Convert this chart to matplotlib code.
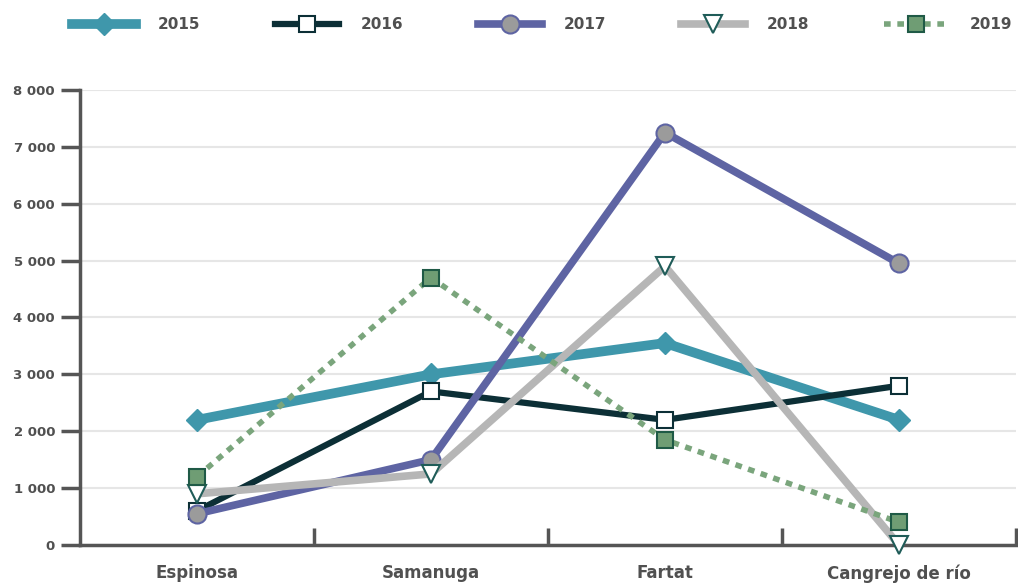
import matplotlib
matplotlib.use("Agg")
import matplotlib.pyplot as plt
from matplotlib.ticker import FixedLocator, NullFormatter

plt.rcParams['font.family'] = ['Liberation Sans Narrow', 'DejaVu Sans']

categorias = ['Espinosa', 'Samanuga', 'Fartat', 'Cangrejo de río']
anos = ['2015', '2016', '2017', '2018', '2019']
v2015 = [2200, 3000, 3550, 2200]
v2016 = [600, 2700, 2200, 2800]
v2017 = [550, 1500, 7250, 4950]
v2018 = [900, 1250, 4900, 0]
v2019 = [1200, 4700, 1850, 400]
y_ticks = [0, 1000, 2000, 3000, 4000, 5000, 6000, 7000, 8000]

estilos = [
    dict(color='#3f97ab', lw=7, marker='D', ms=11, mfc='#3f97ab', mec='#3f97ab', ls='-'),
    dict(color='#0c2f36', lw=4.5, marker='s', ms=11, mfc='white', mec='#0c2f36', mew=1.5, ls='-'),
    dict(color='#5e64a3', lw=5.5, marker='o', ms=13, mfc='#9b9b9b', mec='#5e64a3', mew=1.5, ls='-'),
    dict(color='#b6b6b6', lw=5.5, marker='v', ms=13, mfc='white', mec='#1f5c58', mew=1.5, ls='-'),
    dict(color='#7aa57c', lw=4, marker='s', ms=11, mfc='#6f9d74', mec='#1f5a46', mew=1.5, ls=(0, (1.2, 1.2))),
]
series = [v2015, v2016, v2017, v2018, v2019]

fig = plt.figure(figsize=(10.18, 5.88), dpi=100)
ax = fig.add_axes([0.0786, 0.0731, 0.9194, 0.774])

xs = [i + 0.5 for i in range(len(categorias))]
linhas = []
for ano, vals, st in zip(anos, series, estilos):
    l, = ax.plot(xs, vals, label=ano, zorder=3, clip_on=False, **st)
    linhas.append(l)

ax.set_xlim(0, len(categorias))
ax.set_ylim(0, 8000)
ax.set_yticks(y_ticks)
ax.set_yticklabels([f'{v:,}'.replace(',', ' ') if v else '0' for v in y_ticks])
ax.xaxis.set_major_locator(FixedLocator(range(1, len(categorias) + 1)))
ax.xaxis.set_major_formatter(NullFormatter())
ax.xaxis.set_minor_locator(FixedLocator(xs))
ax.set_xticklabels(categorias, minor=True)
ax.tick_params(axis='x', which='minor', length=0, pad=14)
ax.tick_params(axis='x', which='major', direction='in', length=12, width=2.5, color='#555555')
ax.tick_params(axis='y', direction='out', length=14, width=2.5, color='#555555', pad=4)
for lab in ax.get_xticklabels(minor=True) + ax.get_yticklabels():
    lab.set_fontweight('bold')
    lab.set_color('#505050')
for lab in ax.get_xticklabels(minor=True):
    lab.set_fontsize(12)
for lab in ax.get_yticklabels():
    lab.set_fontsize(9.5)

ax.grid(axis='y', color='#e6e6e6', lw=1.5, zorder=0)
for s in ['top', 'right']:
    ax.spines[s].set_visible(False)
for s in ['left', 'bottom']:
    ax.spines[s].set_color('#555555')
    ax.spines[s].set_linewidth(2.5)

leg = fig.legend(handles=linhas, loc='lower left', bbox_to_anchor=(0.065, 0.935, 0.935, 0.08),
                 mode='expand', ncol=5, frameon=False, handlelength=4.2, handletextpad=1.4,
                 prop={'weight': 'bold', 'size': 11}, borderaxespad=0)
for t in leg.get_texts():
    t.set_color('#505050')

fig.savefig('out.png', dpi=100, facecolor='white')
